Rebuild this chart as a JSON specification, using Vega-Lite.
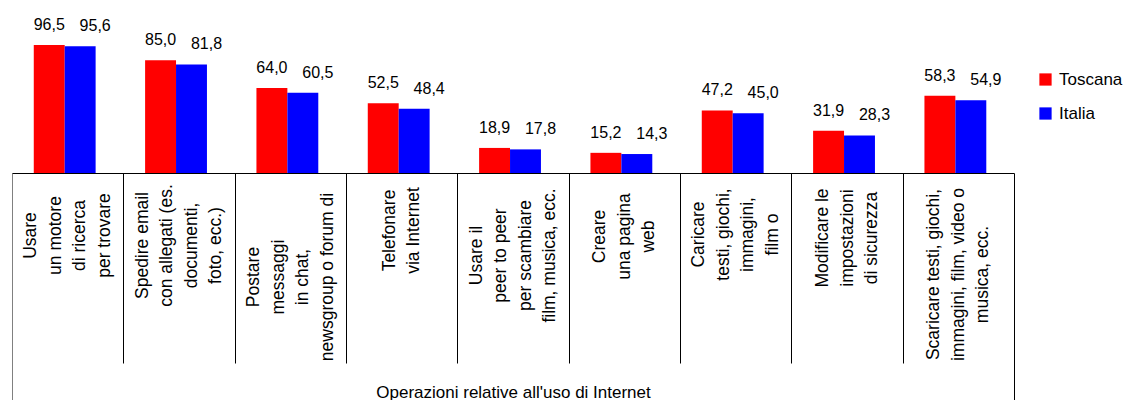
{
  "$schema": "https://vega.github.io/schema/vega-lite/v6.json",
  "width": 1002,
  "height": 173,
  "padding": {"left": 12, "top": 0, "right": 110, "bottom": 227},
  "autosize": {"type": "none"},
  "background": "white",
  "config": {
    "view": {"stroke": null},
    "locale": {"number": {"decimal": ",", "thousands": ".", "grouping": [3], "currency": ["", " €"]}}
  },
  "data": {
    "values": [
      {"cat": "Usare|un motore|di ricerca|per trovare", "series": "Toscana", "value": 96.5},
      {"cat": "Usare|un motore|di ricerca|per trovare", "series": "Italia", "value": 95.6},
      {"cat": "Spedire email|con allegati (es.|documenti,|foto, ecc.)", "series": "Toscana", "value": 85.0},
      {"cat": "Spedire email|con allegati (es.|documenti,|foto, ecc.)", "series": "Italia", "value": 81.8},
      {"cat": "Postare|messaggi|in chat,|newsgroup o forum di", "series": "Toscana", "value": 64.0},
      {"cat": "Postare|messaggi|in chat,|newsgroup o forum di", "series": "Italia", "value": 60.5},
      {"cat": "Telefonare|via Internet", "series": "Toscana", "value": 52.5},
      {"cat": "Telefonare|via Internet", "series": "Italia", "value": 48.4},
      {"cat": "Usare il|peer to peer|per scambiare|film, musica, ecc.", "series": "Toscana", "value": 18.9},
      {"cat": "Usare il|peer to peer|per scambiare|film, musica, ecc.", "series": "Italia", "value": 17.8},
      {"cat": "Creare|una pagina|web", "series": "Toscana", "value": 15.2},
      {"cat": "Creare|una pagina|web", "series": "Italia", "value": 14.3},
      {"cat": "Caricare|testi, giochi,|immagini,|film o", "series": "Toscana", "value": 47.2},
      {"cat": "Caricare|testi, giochi,|immagini,|film o", "series": "Italia", "value": 45.0},
      {"cat": "Modificare le|impostazioni|di sicurezza", "series": "Toscana", "value": 31.9},
      {"cat": "Modificare le|impostazioni|di sicurezza", "series": "Italia", "value": 28.3},
      {"cat": "Scaricare testi, giochi,|immagini, film, video o|musica, ecc.", "series": "Toscana", "value": 58.3},
      {"cat": "Scaricare testi, giochi,|immagini, film, video o|musica, ecc.", "series": "Italia", "value": 54.9}
    ]
  },
  "encoding": {
    "x": {
      "field": "cat",
      "type": "nominal",
      "sort": null,
      "scale": {"paddingInner": 0, "paddingOuter": 0},
      "axis": {
        "title": "Operazioni relative all'uso di Internet",
        "titleFont": "Liberation Sans",
        "titleFontSize": 17,
        "titleFontWeight": "normal",
        "titleColor": "#000000",
        "titleY": 224,
        "titleBaseline": "alphabetic",
        "domainColor": "#000000",
        "domainWidth": 1,
        "ticks": true,
        "tickBand": "extent",
        "tickSize": {"condition": {"test": "datum.index < 0 || datum.index >= 1", "value": 240}, "value": 190},
        "tickColor": {"condition": {"test": "datum.index < 0", "value": "#808080"}, "value": "#000000"},
        "tickWidth": 1,
        "labelAngle": -90,
        "labelAlign": "center",
        "labelBaseline": "middle",
        "labelPadding": {
          "condition": [
            {"test": "round(datum.index*8) === 0", "value": -128},
            {"test": "round(datum.index*8) === 1", "value": -118},
            {"test": "round(datum.index*8) === 2", "value": -86.5},
            {"test": "round(datum.index*8) === 3", "value": -133},
            {"test": "round(datum.index*8) === 4", "value": -108},
            {"test": "round(datum.index*8) === 5", "value": -127},
            {"test": "round(datum.index*8) === 6", "value": -129},
            {"test": "round(datum.index*8) === 7", "value": -125.5},
            {"test": "round(datum.index*8) === 8", "value": -139}
          ],
          "value": -128
        },
        "labelOffset": {
          "condition": [
            {"test": "length(split(datum.label, '|')) === 4", "value": -36.75},
            {"test": "length(split(datum.label, '|')) === 3", "value": -24.5},
            {"test": "length(split(datum.label, '|')) === 2", "value": -12.25}
          ],
          "value": 0
        },
        "labelExpr": "split(datum.label, '|')",
        "labelFont": "Liberation Sans",
        "labelFontSize": 17.5,
        "labelColor": "#000000",
        "labelLineHeight": 24.5,
        "labelLimit": 0,
        "labelOverlap": false,
        "labelBound": false,
        "labelFlush": false
      }
    },
    "xOffset": {
      "field": "series",
      "type": "nominal",
      "sort": ["Toscana", "Italia"],
      "scale": {"paddingInner": 0, "paddingOuter": 0.8, "align": 0.44}
    },
    "y": {
      "field": "value",
      "type": "quantitative",
      "scale": {"domain": [0, 130.4]},
      "axis": null
    }
  },
  "layer": [
    {
      "mark": {"type": "bar"},
      "encoding": {
        "color": {
          "field": "series",
          "type": "nominal",
          "scale": {"domain": ["Toscana", "Italia"], "range": ["#ff0000", "#0000ff"]},
          "legend": {
            "title": null,
            "orient": "none",
            "legendX": 1025,
            "legendY": 71,
            "symbolType": "square",
            "symbolSize": 150,
            "symbolStrokeWidth": 0,
            "labelFont": "Liberation Sans",
            "labelFontSize": 17,
            "labelColor": "#000000",
            "rowPadding": 16,
            "labelOffset": 5,
            "padding": 0
          }
        }
      }
    },
    {
      "transform": [{"filter": "datum.series === 'Toscana'"}],
      "mark": {"type": "text", "dy": -15, "baseline": "alphabetic", "align": "center", "font": "Liberation Sans", "fontSize": 16, "color": "#000000"},
      "encoding": {"text": {"field": "value", "type": "quantitative", "format": ".1f"}}
    },
    {
      "transform": [{"filter": "datum.series === 'Italia'"}],
      "mark": {"type": "text", "dy": -15, "dx": 15, "baseline": "alphabetic", "align": "center", "font": "Liberation Sans", "fontSize": 16, "color": "#000000"},
      "encoding": {"text": {"field": "value", "type": "quantitative", "format": ".1f"}}
    }
  ]
}
